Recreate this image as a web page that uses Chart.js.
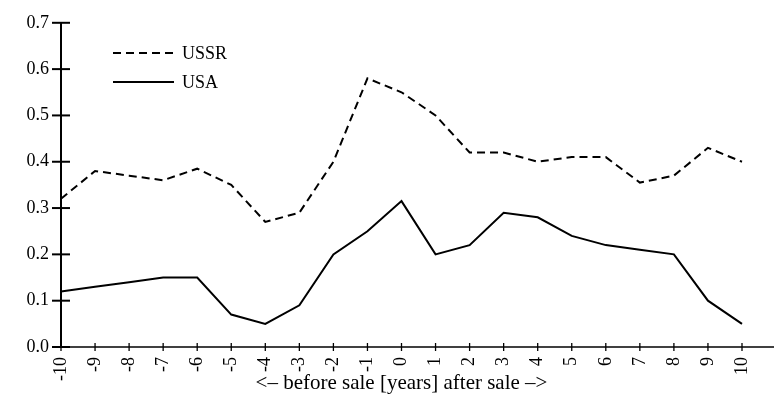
<!DOCTYPE html>
<html>
<head>
<meta charset="utf-8">
<title>USSR vs USA</title>
<script src="https://cdn.jsdelivr.net/npm/chart.js@4/dist/chart.umd.min.js"></script>
<style>
  html, body { margin: 0; padding: 0; background: #fff; }
  canvas { display: block; }
</style>
</head>
<body>
<canvas id="myChart" width="776" height="395"></canvas>
<script>
const years = ["-10", "-9", "-8", "-7", "-6", "-5", "-4", "-3", "-2", "-1", "0",
    "1", "2", "3", "4", "5", "6", "7", "8", "9", "10"];
const ussr = [0.32, 0.38, 0.37, 0.36, 0.385, 0.35, 0.27, 0.29, 0.40, 0.58, 0.55,
    0.50, 0.42, 0.42, 0.40, 0.41, 0.41, 0.355, 0.37, 0.43, 0.40];
const usa = [0.12, 0.13, 0.14, 0.15, 0.15, 0.07, 0.05, 0.09, 0.20, 0.25, 0.315,
    0.20, 0.22, 0.29, 0.28, 0.24, 0.22, 0.21, 0.20, 0.10, 0.05];

const FONT = "'Liberation Serif', 'DejaVu Serif', serif";

// axis lines, cross ticks and the in-plot legend
const axesPlugin = {
    id: "axes",
    afterDraw(chart) {
        const ctx = chart.ctx;
        const x = chart.scales.x;
        const y = chart.scales.y;
        const x0 = x.getPixelForValue(0);
        const y0 = y.getPixelForValue(0);
        ctx.save();
        ctx.strokeStyle = "#000";
        ctx.setLineDash([]);

        ctx.lineWidth = 2;
        ctx.beginPath();
        ctx.moveTo(x0, y.getPixelForValue(0.7));
        ctx.lineTo(x0, y0);
        ctx.stroke();
        y.ticks.forEach(t => {
            const py = y.getPixelForValue(t.value);
            ctx.beginPath();
            ctx.moveTo(x0 - 9, py);
            ctx.lineTo(x0 + 9, py);
            ctx.stroke();
        });

        ctx.lineWidth = 1.3;
        ctx.beginPath();
        ctx.moveTo(x0, y0);
        ctx.lineTo(chart.width - 2, y0);
        ctx.stroke();
        years.forEach((_, i) => {
            const px = x.getPixelForValue(i);
            ctx.beginPath();
            ctx.moveTo(px, y0 - 4);
            ctx.lineTo(px, y0 + 4);
            ctx.stroke();
        });

        ctx.font = "18px " + FONT;
        ctx.fillStyle = "#000";
        ctx.textBaseline = "middle";
        chart.data.datasets.forEach((ds, i) => {
            const ly = 53 + i * 29;
            ctx.lineWidth = 2;
            ctx.setLineDash(ds.borderDash || []);
            ctx.beginPath();
            ctx.moveTo(113, ly);
            ctx.lineTo(174, ly);
            ctx.stroke();
            ctx.fillText(ds.label, 182, ly + 1);
        });
        ctx.restore();
    }
};

const data = {
    labels: years,
    datasets: [
        {
            label: "USSR",
            data: ussr,
            borderColor: "#000",
            borderWidth: 2,
            borderDash: [8, 5],
            pointRadius: 0,
            tension: 0,
        },
        {
            label: "USA",
            data: usa,
            borderColor: "#000",
            borderWidth: 2,
            pointRadius: 0,
            tension: 0,
        },
    ],
};

const config = {
    type: "line",
    data: data,
    options: {
        responsive: false,
        animation: false,
        layout: { padding: { top: 20, right: 34, left: 0, bottom: 0 } },
        plugins: { legend: { display: false }, tooltip: { enabled: false } },
        scales: {
            x: {
                type: "category",
                offset: false,
                grid: { display: false, drawTicks: false },
                border: { display: false },
                ticks: {
                    color: "#000",
                    font: { family: FONT, size: 18 },
                    autoSkip: false,
                    minRotation: 90,
                    maxRotation: 90,
                    padding: 10,
                },
                title: {
                    display: true,
                    text: "<– before sale [years] after sale –>",
                    color: "#000",
                    font: { family: FONT, size: 21, lineHeight: 1.1 },
                    padding: 0,
                },
                afterFit(scale) { scale.height = 48; },
            },
            y: {
                min: 0,
                max: 0.7,
                grid: { display: false, drawTicks: false },
                border: { display: false },
                ticks: {
                    stepSize: 0.1,
                    color: "#000",
                    font: { family: FONT, size: 18 },
                    padding: 12,
                    callback: v => v.toFixed(1),
                },
                afterFit(scale) { scale.width = 61; },
            },
        },
    },
    plugins: [axesPlugin],
};

const myChart = new Chart(document.getElementById("myChart"), config);
</script>
</body>
</html>
